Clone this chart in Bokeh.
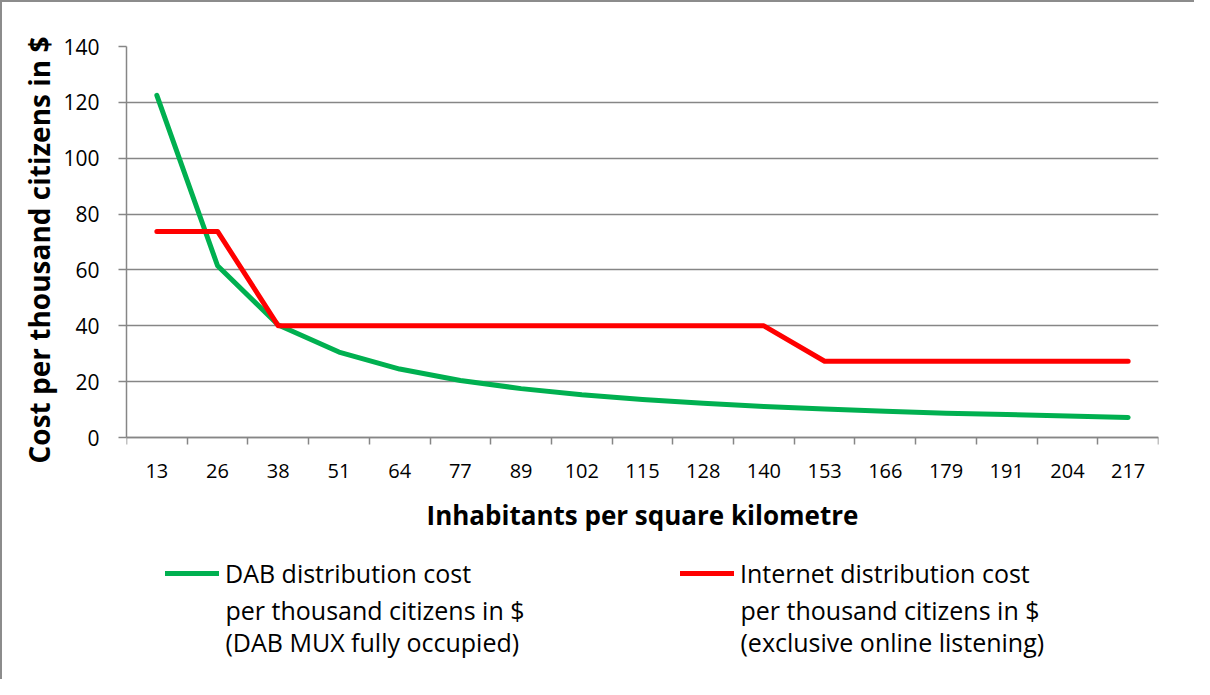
from bokeh.plotting import figure
from bokeh.models import Range1d, FixedTicker, Legend, LegendItem, ColumnDataSource, Label, Title
from bokeh.embed import file_html
from bokeh.resources import INLINE

categories = ["13", "26", "38", "51", "64", "77", "89", "102", "115", "128",
              "140", "153", "166", "179", "191", "204", "217"]
dab_cost = [122.5, 61.5, 40.3, 30.6, 24.5, 20.4, 17.5, 15.3, 13.6, 12.3,
            11.1, 10.2, 9.4, 8.7, 8.2, 7.7, 7.2]
internet_cost = [73.8, 73.8, 40, 40, 40, 40, 40, 40, 40, 40,
                 40, 27.3, 27.3, 27.3, 27.3, 27.3, 27.3]
y_ticks = [0, 20, 40, 60, 80, 100, 120, 140]
x_title = "Inhabitants per square kilometre"
y_title = "Cost per thousand citizens in $"
dab_label = ["DAB distribution cost", "per thousand citizens in $", "(DAB MUX fully occupied)"]
internet_label = ["Internet distribution cost", "per thousand citizens in $", "(exclusive online listening)"]

FONT = "Open Sans"
GRAY = "#868686"

# layout (pixels)
W, H = 1194, 679
LEFT, RIGHT, TOP = 124, 38, 44
PLOT_H = 391  # pixel height of the 0..140 value band
frame_h = H - TOP
y_max = 140
y_min = y_max - frame_h * y_max / PLOT_H  # extra room below the axis for legend

pos = list(range(1, len(categories) + 1))
src = ColumnDataSource(dict(x=pos, dab=dab_cost, net=internet_cost))

p = figure(width=W, height=H, output_backend="svg", toolbar_location=None,
           x_range=Range1d(0.5, len(categories) + 0.5), y_range=Range1d(y_min, y_max),
           min_border_left=LEFT, min_border_right=RIGHT, min_border_top=TOP,
           min_border_bottom=0)
p.outline_line_color = None
p.background_fill_color = "white"
p.border_fill_color = "white"
p.styles = {"border-top": "2px solid #8c8c8c", "border-left": "2px solid #8c8c8c"}

r_dab = p.line("x", "dab", source=src, line_color="#00B050", line_width=5,
               line_cap="round", line_join="round")
r_net = p.line("x", "net", source=src, line_color="#FF0000", line_width=5,
               line_cap="round", line_join="round")

# x axis (drawn at value 0)
xa = p.xaxis[0]
xa.fixed_location = 0
xa.ticker = FixedTicker(ticks=pos, minor_ticks=[i + 0.5 for i in range(len(categories) + 1)])
xa.major_label_overrides = {i: c for i, c in zip(pos, categories)}
xa.major_tick_line_color = None
xa.minor_tick_line_color = GRAY
xa.minor_tick_line_width = 1.5
xa.minor_tick_in = 0
xa.minor_tick_out = 7
xa.major_label_standoff = 19
xa.axis_line_color = GRAY
xa.axis_line_width = 1.5
xa.axis_label = x_title
xa.axis_label_text_font = FONT
xa.axis_label_text_font_style = "bold"
xa.axis_label_text_font_size = "26px"
xa.axis_label_text_color = "black"
xa.axis_label_standoff = 16
xa.major_label_text_font = FONT
xa.major_label_text_font_size = "20px"
xa.major_label_text_color = "black"

# y axis
ya = p.yaxis[0]
ya.bounds = (0, 140)
ya.ticker = FixedTicker(ticks=y_ticks)
ya.minor_tick_line_color = None
ya.major_tick_in = 0
ya.major_tick_out = 8
ya.major_tick_line_color = GRAY
ya.major_tick_line_width = 1.5
ya.axis_line_color = GRAY
ya.axis_line_width = 1.5
ya.major_label_standoff = 19
ya.major_label_text_font = FONT
ya.major_label_text_font_size = "21px"
ya.major_label_text_color = "black"

p.add_layout(Title(text=y_title, align="left", offset=218, text_font=FONT,
                   text_font_size="28px", text_font_style="bold", text_color="black",
                   standoff=6), "left")

p.xgrid.grid_line_color = None
p.ygrid.grid_line_color = GRAY
p.ygrid.grid_line_width = 1.5

# legend: first line of each entry in the legend, remaining lines as labels
LEG_X, LEG_Y = 39, 91
GLYPH_W, STANDOFF, LABEL_W, SPACING = 54, 6, 300, 155
legend = Legend(items=[LegendItem(label=dab_label[0], renderers=[r_dab]),
                       LegendItem(label=internet_label[0], renderers=[r_net])],
                orientation="horizontal", location=(LEG_X, LEG_Y),
                glyph_width=GLYPH_W, glyph_height=20, spacing=SPACING, padding=0, margin=0,
                label_width=LABEL_W, label_standoff=STANDOFF,
                label_text_font=FONT, label_text_font_size="25px",
                label_text_color="black", border_line_color=None,
                background_fill_alpha=0)
p.add_layout(legend, "center")

text_x1 = LEG_X + GLYPH_W + STANDOFF
text_x2 = text_x1 + LABEL_W + SPACING + GLYPH_W + STANDOFF
for tx, lines in ((text_x1, dab_label), (text_x2, internet_label)):
    p.add_layout(Label(x=tx, y=LEG_Y - 2, x_units="screen", y_units="screen",
                       text="\n".join(lines[1:]), text_font=FONT, text_font_size="25px",
                       text_color="black", text_baseline="top", text_align="left",
                       text_line_height=0.955))

open("out.html", "w").write(file_html(p, INLINE))
